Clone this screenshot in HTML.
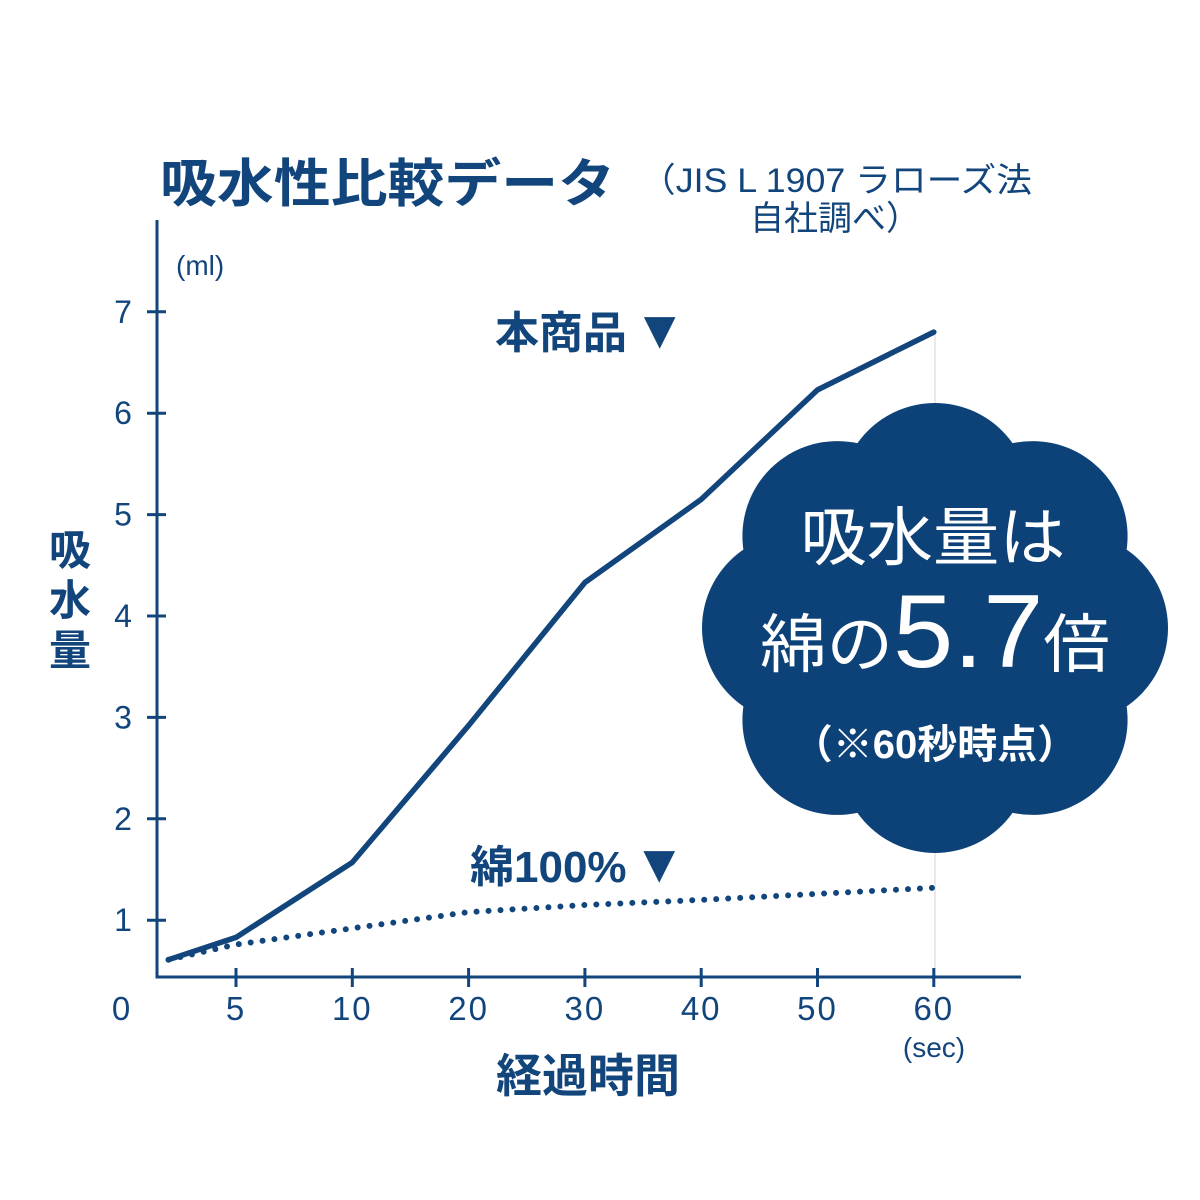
<!DOCTYPE html>
<html><head><meta charset="utf-8">
<style>
html,body{margin:0;padding:0;background:#fff;}
svg{display:block;}
text{font-family:"Liberation Sans","Noto Sans CJK JP",sans-serif;fill:#11457c;}
</style></head>
<body>
<svg id="chart" width="1200" height="1200" viewBox="0 0 1200 1200">
  <text x="160" y="202" font-size="52" font-weight="bold" textLength="455" lengthAdjust="spacingAndGlyphs">吸水性比較データ</text>
  <text x="640" y="192" font-size="34" textLength="392" lengthAdjust="spacingAndGlyphs">（JIS L 1907 ラローズ法</text>
  <text x="750" y="230" font-size="34">自社調べ）</text>
  <text x="176" y="275" font-size="28">(ml)</text>
  <text x="70" y="565" font-size="42" font-weight="bold" text-anchor="middle">吸</text>
  <text x="70" y="615" font-size="42" font-weight="bold" text-anchor="middle">水</text>
  <text x="70" y="665" font-size="42" font-weight="bold" text-anchor="middle">量</text>
  <text x="588" y="1092" font-size="46" font-weight="bold" text-anchor="middle">経過時間</text>
  <text x="934" y="1057" font-size="28" text-anchor="middle">(sec)</text>
  <line x1="935" y1="335" x2="935" y2="977" stroke="#e4e4e4" stroke-width="1.5"/>
  <g id="axes"></g>
  <g id="series"></g>
  <g id="cloud" fill="#0d4279"></g>
  <text x="933" y="560" font-size="64" text-anchor="middle" style="fill:#fff" textLength="265" lengthAdjust="spacingAndGlyphs">吸水量は</text>
  <text x="935" y="667" text-anchor="middle" style="fill:#fff" textLength="350" lengthAdjust="spacingAndGlyphs"><tspan font-size="64">綿の</tspan><tspan font-size="104">5.7</tspan><tspan font-size="64">倍</tspan></text>
  <text x="935" y="758" font-size="40" font-weight="bold" text-anchor="middle" style="fill:#fff">（※60秒時点）</text>
  <text x="495" y="348" font-size="44" font-weight="bold">本商品<tspan font-size="54" dx="6">▼</tspan></text>
  <text x="470" y="882" font-size="44" font-weight="bold">綿100%<tspan font-size="54" dx="6">▼</tspan></text>
</svg>
<script>
const categories = ["0","5","10","20","30","40","50","60"];
const pointIndex = [0.42,1,2,3,4,5,6,7];
const productValues = [0.61,0.83,1.57,2.92,4.33,5.15,6.23,6.80];
const cottonValues = [0.61,0.76,0.92,1.08,1.15,1.20,1.26,1.32];
const yTicks = [1,2,3,4,5,6,7];
const NS="http://www.w3.org/2000/svg";
const C="#11457c";
function xs(i){return 236+(i-1)*116.3;}
function ys(v){return 1021.6-v*101.4;}
function mk(tag,attrs,parent){const e=document.createElementNS(NS,tag);for(const k in attrs)e.setAttribute(k,attrs[k]);parent.appendChild(e);return e;}
const axes=document.getElementById('axes');
let a=mk('line',{x1:157,y1:220,x2:157,y2:978,stroke:C,'stroke-width':3},axes);


a=mk('line',{x1:155.5,y1:977,x2:1021,y2:977,stroke:C,'stroke-width':3},axes);


yTicks.forEach(v=>{
  const t=mk('line',{x1:147,y1:ys(v),x2:166,y2:ys(v),stroke:C,'stroke-width':3},axes);
  
  
  const l=mk('text',{x:123,y:ys(v)+11,'font-size':32,'text-anchor':'middle'},axes);l.textContent=v;
  
  
});
categories.forEach((c,i)=>{
  const lbl=mk('text',{x:i===0?122:xs(i),y:1020,'font-size':33,'text-anchor':'middle','letter-spacing':2},axes);lbl.textContent=c;
  
  
  if(i>0){const t=mk('line',{x1:xs(i),y1:968,x2:xs(i),y2:987,stroke:C,'stroke-width':3},axes);
  
  }
});
const ser=document.getElementById('series');
function pts(vals){return vals.map((v,i)=>xs(pointIndex[i]).toFixed(1)+","+ys(v).toFixed(1)).join(" ");}
let p=mk('polyline',{points:pts(cottonValues),fill:'none',stroke:C,'stroke-width':6,'stroke-dasharray':'0 12','stroke-linecap':'round'},ser);


p=mk('polyline',{points:pts(productValues),fill:'none',stroke:C,'stroke-width':5.5,'stroke-linejoin':'round','stroke-linecap':'round'},ser);


const cloud=document.getElementById('cloud');
mk('circle',{cx:935,cy:628,r:200},cloud);
for(let k=0;k<8;k++){const ang=k*Math.PI/4;mk('circle',{cx:935+138*Math.sin(ang),cy:628-130*Math.cos(ang),r:95},cloud);}
</script>
</body></html>
